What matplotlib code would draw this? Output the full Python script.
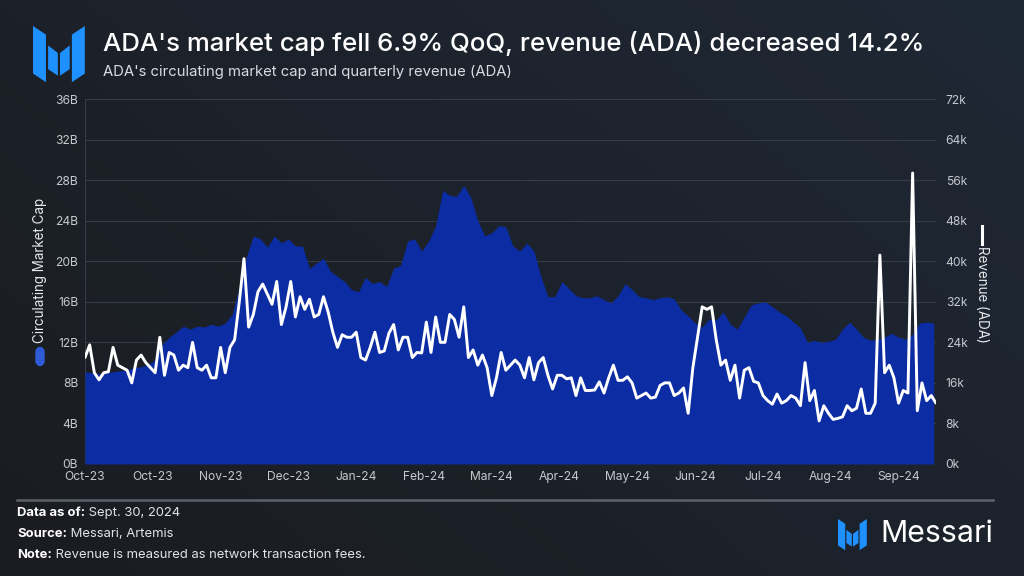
import numpy as np
import pandas as pd
import matplotlib
matplotlib.use('Agg')
from matplotlib import pyplot as plt
import matplotlib.dates as mdates
from matplotlib.patches import Polygon, FancyBboxPatch
from matplotlib.lines import Line2D

plt.rcParams['font.family'] = ['Inter', 'DejaVu Sans']

# circulating market cap (billions), every 3 days from Oct 1 2023
mcap_start = '2023-10-01'
mcap_b = [9.1, 9.0, 8.9, 9.0, 9.1, 9.2, 9.3, 9.5, 9.6, 9.8,
          10.3, 11.8, 12.5, 13.0, 13.6, 13.3, 13.6, 13.5, 13.8, 13.6,
          13.9, 14.8, 17.5, 20.4, 22.5, 22.2, 21.4, 22.5, 21.8, 22.2,
          21.5, 21.5, 19.3, 19.8, 20.3, 19.0, 18.5, 18.0, 17.2, 17.0,
          18.4, 17.8, 18.0, 17.5, 19.3, 19.6, 22.0, 22.2, 21.0, 22.0,
          23.5, 27.0, 26.5, 26.4, 27.5, 26.3, 24.0, 22.5, 22.8, 23.5,
          23.4, 21.5, 21.0, 21.8, 21.0, 18.5, 16.5, 16.5, 18.0, 17.3,
          16.6, 16.4, 16.4, 16.6, 16.2, 15.9, 16.6, 17.8, 17.2, 16.5,
          16.4, 16.2, 16.4, 16.5, 16.3, 15.2, 14.6, 13.9, 13.5, 14.3,
          14.2, 15.0, 13.8, 13.3, 14.5, 15.7, 15.9, 16.0, 15.5, 15.0,
          14.6, 14.0, 13.4, 12.0, 12.2, 12.0, 12.1, 12.3, 13.3, 14.0,
          13.3, 12.5, 12.2, 12.3, 12.5, 12.9, 12.5, 12.3, 12.8, 13.9,
          14.0, 13.9]

# revenue in ADA (thousands), every 2 days from Oct 1 2023
rev_start = '2023-10-01'
rev_k = [21.0, 23.5, 18.0, 16.6, 18.0, 18.2, 23.0, 19.5, 19.0, 18.5,
         16.0, 20.5, 21.5, 20.0, 19.0, 18.0, 25.0, 17.5, 22.0, 21.5,
         18.5, 19.5, 19.0, 24.0, 19.0, 18.5, 19.5, 17.0, 17.0, 23.0,
         18.0, 23.0, 24.5, 32.0, 40.5, 27.0, 29.5, 34.0, 35.5, 33.5,
         31.5, 36.0, 27.5, 31.0, 36.0, 29.0, 33.0, 30.5, 32.5, 29.0,
         29.5, 33.0, 30.0, 26.0, 23.0, 25.5, 25.0, 25.0, 26.0, 21.0,
         20.5, 23.0, 26.0, 22.0, 22.3, 25.8, 27.5, 22.5, 25.0, 25.0,
         21.0, 22.0, 21.9, 28.0, 22.0, 29.0, 24.0, 24.0, 29.5, 28.5,
         25.0, 31.0, 21.0, 22.5, 19.5, 21.5, 19.0, 13.5, 17.0, 22.0,
         18.5, 19.5, 20.5, 19.5, 17.0, 21.0, 16.6, 20.0, 21.0, 17.5,
         14.8, 17.5, 17.5, 16.8, 17.0, 13.5, 17.0, 14.5, 14.5, 14.6,
         16.2, 14.0, 17.0, 19.5, 16.5, 16.5, 17.2, 16.0, 13.0, 13.5,
         14.0, 13.0, 13.2, 15.5, 16.0, 16.0, 13.5, 14.0, 15.0, 10.0,
         19.0, 25.0, 31.0, 30.5, 31.0, 24.5, 19.5, 20.5, 16.5, 19.5,
         13.0, 18.5, 19.0, 16.3, 16.0, 13.5, 12.5, 11.8, 13.8, 12.0,
         12.5, 13.5, 13.0, 11.5, 20.0, 12.5, 14.5, 8.5, 11.5, 10.0,
         8.8, 9.0, 9.3, 11.5, 10.5, 11.0, 14.8, 10.0, 10.0, 12.0,
         41.2, 18.0, 19.5, 17.0, 12.0, 14.5, 14.0, 57.4, 10.5, 16.0,
         12.5, 13.5, 12.0]

left_ticks = [0, 4, 8, 12, 16, 20, 24, 28, 32, 36]
right_ticks = [0, 8, 16, 24, 32, 40, 48, 56, 64, 72]

title = "ADA's market cap fell 6.9% QoQ, revenue (ADA) decreased 14.2%"
subtitle = "ADA's circulating market cap and quarterly revenue (ADA)"

mcap_dates = pd.date_range(mcap_start, periods=len(mcap_b), freq='3D')
rev_dates = pd.date_range(rev_start, periods=len(rev_k), freq='2D')
tick_dates = pd.date_range('2023-10-01', periods=13, freq='29D')

fig = plt.figure(figsize=(10.24, 5.76), dpi=100)

# background gradient
bg = fig.add_axes([0, 0, 1, 1], zorder=-10)
gx, gy = np.meshgrid(np.linspace(0, 1, 200), np.linspace(0, 1, 120))
t = np.clip(0.6 * gx + 0.4 * gy, 0, 1)[..., None]
c0 = np.array([26, 28, 33]) / 255
c1 = np.array([31, 40, 53]) / 255
bg.imshow(c0 + (c1 - c0) * t, aspect='auto', extent=[0, 1, 0, 1], origin='lower')
bg.axis('off')

ax = fig.add_axes([85/1024, 1 - 464/576, 851/1024, 365/576])
ax.set_facecolor('none')
ax2 = ax.twinx()

ax.fill_between(mcap_dates, 0, mcap_b, color='#0b2ca2', lw=0, zorder=2)
ax2.plot(rev_dates, rev_k, color='white', lw=2.1, zorder=3,
         solid_joinstyle='round', solid_capstyle='round')

ax.set_ylim(0, 36)
ax2.set_ylim(0, 72)
ax.set_xlim(pd.Timestamp('2023-10-01'), pd.Timestamp('2024-09-29'))

ax.set_yticks(left_ticks)
ax.set_yticklabels([f'{v}B' for v in left_ticks])
ax2.set_yticks(right_ticks)
ax2.set_yticklabels([f'{v}k' for v in right_ticks])
ax.set_xticks(tick_dates)
ax.xaxis.set_major_formatter(mdates.DateFormatter('%b-%y'))

tick_col = '#c4c8ce'
for a in (ax, ax2):
    a.tick_params(length=0, colors=tick_col, labelsize=8.7)
    for s in a.spines.values():
        s.set_visible(False)
ax.tick_params(axis='y', pad=5)
ax2.tick_params(axis='y', pad=7)
ax.tick_params(axis='x', pad=5)
ax.grid(axis='y', color='#363c45', lw=0.8, zorder=0)
ax.set_axisbelow(True)
ax.axvline(ax.get_xlim()[0], color='#363c45', lw=0.8, zorder=1)

# axis side labels with legend markers
fig.text(40/1024, 1 - 270/576, 'Circulating Market Cap', rotation=90, color='#e6e8eb',
         fontsize=9.7, ha='center', va='center')
fig.patches.append(FancyBboxPatch((36/1024, 1 - 365/576), 8/1024, 17/576,
                                  boxstyle='round,pad=0,rounding_size=0.006',
                                  transform=fig.transFigure, color='#2f5bd8'))
fig.text(982/1024, 1 - 294/576, 'Revenue (ADA)', rotation=270, color='#e6e8eb',
         fontsize=9.7, ha='center', va='center')
fig.lines.append(Line2D([982/1024, 982/1024], [1 - 226/576, 1 - 244/576],
                        transform=fig.transFigure, color='white', lw=2.2))

# title
fig.text(103/1024, 1 - 43/576, title, color='white', fontsize=18.6,
         fontweight='medium', va='center', ha='left')
fig.text(103/1024, 1 - 72/576, subtitle, color='#d8dbe0', fontsize=10.7, va='center', ha='left')

# logo
def logo(x0, y0, s):
    pieces = [[(0, 0), (12, 8), (12, 52), (0, 44)],
              [(14, 18), (23, 25), (23, 46), (14, 40)],
              [(25, 25), (34, 18), (34, 40), (25, 46)],
              [(36, 8), (48, 0), (48, 44), (36, 52)]]
    for p in pieces:
        pts = [((x0 + s * px) / 1024, 1 - (y0 + s * py) / 576) for px, py in p]
        fig.patches.append(Polygon(pts, closed=True, transform=fig.transFigure,
                                   color='#1e90ff', lw=0))

logo(33, 26, 1.08)
logo(838, 519, 0.6)
fig.text(880/1024, 1 - 534/576, 'Messari', color='white', fontsize=21.8, va='center', ha='left')

# footer
fig.lines.append(Line2D([17/1024, 993/1024], [1 - 500/576, 1 - 500/576],
                        transform=fig.transFigure, color='#5c626b', lw=1.8))
renderer = fig.canvas.get_renderer()
footer = [('Data as of:', ' Sept. 30, 2024', 513),
          ('Source:', ' Messari, Artemis', 534),
          ('Note:', ' Revenue is measured as network transaction fees.', 555)]
for bold, rest, yy in footer:
    tb = fig.text(17/1024, 1 - yy/576, bold, color='white', fontsize=9.4,
                  fontweight='bold', va='center', ha='left')
    bb = tb.get_window_extent(renderer)
    fig.text(bb.x1 / fig.bbox.width, 1 - yy/576, rest, color='#e0e3e7', fontsize=9.4,
             va='center', ha='left')

fig.savefig('out.png', dpi=100)
